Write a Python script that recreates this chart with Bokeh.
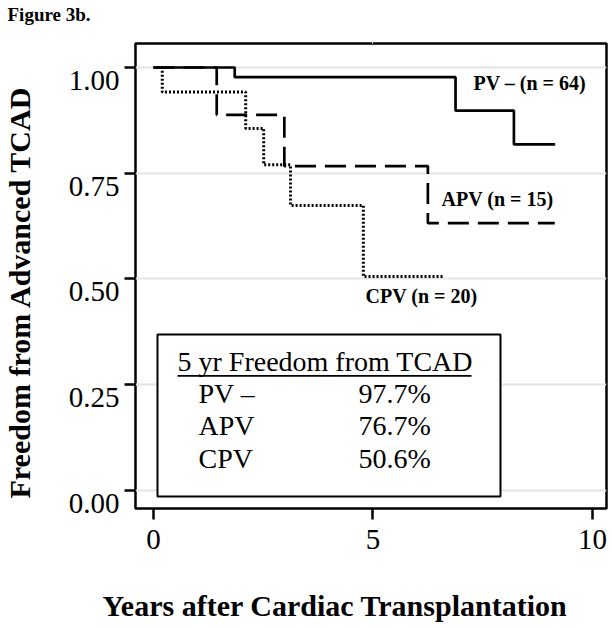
from bokeh.plotting import figure
from bokeh.models import (Range1d, FixedTicker, Label, BoxAnnotation, LinearAxis, Title)
from bokeh.embed import file_html
from bokeh.resources import INLINE

# ---------------- data ----------------
years_pv = [0.0, 1.85, 6.88, 8.21, 9.15]
surv_pv = [1.000, 0.977, 0.898, 0.818, 0.818]

years_apv = [0.0, 1.44, 2.98, 6.25, 9.14]
surv_apv = [1.000, 0.888, 0.767, 0.632, 0.632]

years_cpv = [0.0, 0.20, 2.10, 2.51, 3.12, 4.78, 6.63]
surv_cpv = [1.000, 0.942, 0.856, 0.770, 0.674, 0.506, 0.506]

curve_labels = ["PV \u2013  (n = 64)", "APV  (n = 15)", "CPV  (n = 20)"]
table_title = "5 yr Freedom from TCAD"
table_groups = ["PV \u2013", "APV", "CPV"]
table_values = ["97.7%", "76.7%", "50.6%"]

x_ticks = [0, 5, 10]
y_ticks = [0.0, 0.25, 0.5, 0.75, 1.0]
y_tick_labels = ["0.00", "0.25", "0.50", "0.75", "1.00"]

FONT = "Liberation Serif"
INK = "black"

X0, X1 = -0.41, 10.319
Y0, Y1 = -0.0426, 1.0567

p = figure(width=612, height=629, output_backend="svg", toolbar_location=None,
           x_range=Range1d(X0, X1), y_range=Range1d(Y0, Y1),
           min_border_left=135, min_border_right=6, min_border_top=43,
           min_border_bottom=121)
p.background_fill_color = "white"
p.border_fill_color = "white"
p.outline_line_color = INK
p.outline_line_width = 2.5
p.title.visible = False


def spacer(size, at):
    """An axis drawn in white on white, used only to reserve room in a side panel."""
    ax = LinearAxis(ticker=FixedTicker(ticks=[at]),
                    major_label_overrides={at: ""})
    ax.axis_line_color = None
    ax.major_tick_line_color = "white"
    ax.major_tick_line_width = 1
    ax.minor_tick_line_color = None
    ax.major_tick_out = size
    ax.major_tick_in = 0
    ax.minor_tick_out = 0
    ax.major_label_standoff = 0
    return ax


# grid
p.xgrid.visible = False
p.ygrid.ticker = FixedTicker(ticks=y_ticks)
p.ygrid.grid_line_color = "#e4e4e4"
p.ygrid.grid_line_width = 2

# x axis
xa = p.xaxis[0]
xa.ticker = FixedTicker(ticks=x_ticks)
xa.axis_line_color = None
xa.major_tick_out = 11
xa.major_tick_in = 0
xa.major_tick_line_width = 2.5
xa.major_tick_line_color = INK
xa.minor_tick_line_color = None
xa.major_label_text_font = FONT
xa.major_label_text_font_size = "29px"
xa.major_label_text_color = INK
xa.major_label_standoff = 10

# y axis (inner): tick marks only
ya = p.yaxis[0]
ya.ticker = FixedTicker(ticks=y_ticks)
ya.axis_line_color = None
ya.major_tick_out = 11
ya.major_tick_in = 0
ya.major_tick_line_width = 2.5
ya.major_tick_line_color = INK
ya.minor_tick_line_color = None
ya.major_label_standoff = 0
ya.major_label_overrides = {t: "" for t in y_ticks}

# y axis (outer): tick labels, which sit just below their ticks in the reference
LABEL_SHIFT = 0.0307
label_pos = [round(t - LABEL_SHIFT, 4) for t in y_ticks]
yb = LinearAxis(ticker=FixedTicker(ticks=label_pos),
                major_label_overrides={lp: lab for lp, lab in zip(label_pos, y_tick_labels)})
yb.axis_line_color = None
yb.major_tick_out = 0
yb.major_tick_in = 0
yb.major_tick_line_color = None
yb.minor_tick_line_color = None
yb.major_label_standoff = 5
yb.major_label_text_font = FONT
yb.major_label_text_font_size = "29px"
yb.major_label_text_color = INK
p.add_layout(yb, "left")

# titles as side-panel text
p.add_layout(spacer(30, 0.5), "left")
p.add_layout(Title(text="Freedom from Advanced TCAD", align="left", offset=10,
                   vertical_align="bottom", standoff=0,
                   text_font=FONT, text_font_style="bold", text_font_size="30px",
                   text_color=INK), "left")

p.add_layout(spacer(37, 5), "below")
p.add_layout(Title(text="Years after Cardiac Transplantation", align="left", offset=-33,
                   vertical_align="top", standoff=0,
                   text_font=FONT, text_font_style="bold", text_font_size="30px",
                   text_color=INK), "below")

p.add_layout(spacer(19, 5), "above")
p.add_layout(Title(text="Figure 3b.", align="left", offset=-128,
                   vertical_align="bottom", standoff=0,
                   text_font=FONT, text_font_style="bold", text_font_size="19px",
                   text_color=INK), "above")

# curves
p.step(years_pv, surv_pv, mode="after", line_color=INK, line_width=2.7)
p.step(years_apv, surv_apv, mode="after", line_color=INK, line_width=2.7,
       line_dash="21 9")
p.step(years_cpv, surv_cpv, mode="after", line_color=INK, line_width=3,
       line_dash="2 2")

# curve labels
for (lx, ly), txt in zip([(7.289, 0.9622), (6.560, 0.6891), (4.829, 0.4598)], curve_labels):
    p.add_layout(Label(x=lx, y=ly, text=txt, text_font=FONT, text_color=INK,
                       text_font_style="bold", text_font_size="20px",
                       text_align="left", text_baseline="alphabetic"))

# summary box
p.add_layout(BoxAnnotation(left=0.091, right=7.904, bottom=-0.0142, top=0.3688,
                           fill_color="white", fill_alpha=1.0,
                           line_color=INK, line_width=2, line_alpha=1.0))
p.add_layout(Label(x=0.547, y=0.3038, text=table_title, text_font=FONT,
                   text_color=INK, text_font_size="28px", text_align="left",
                   text_baseline="alphabetic"))
p.add_layout(BoxAnnotation(left=0.547, right=7.244, bottom=0.2686, top=0.2728,
                           fill_color=INK, fill_alpha=1.0, line_color=None))
for yb_, g, v in zip([0.2293, 0.1525, 0.0745], table_groups, table_values):
    p.add_layout(Label(x=1.025, y=yb_, text=g, text_font=FONT, text_color=INK,
                       text_font_size="28px", text_align="left",
                       text_baseline="alphabetic"))
    p.add_layout(Label(x=4.670, y=yb_, text=v, text_font=FONT, text_color=INK,
                       text_font_size="28px", text_align="left",
                       text_baseline="alphabetic"))

open("out.html", "w").write(file_html(p, INLINE))
